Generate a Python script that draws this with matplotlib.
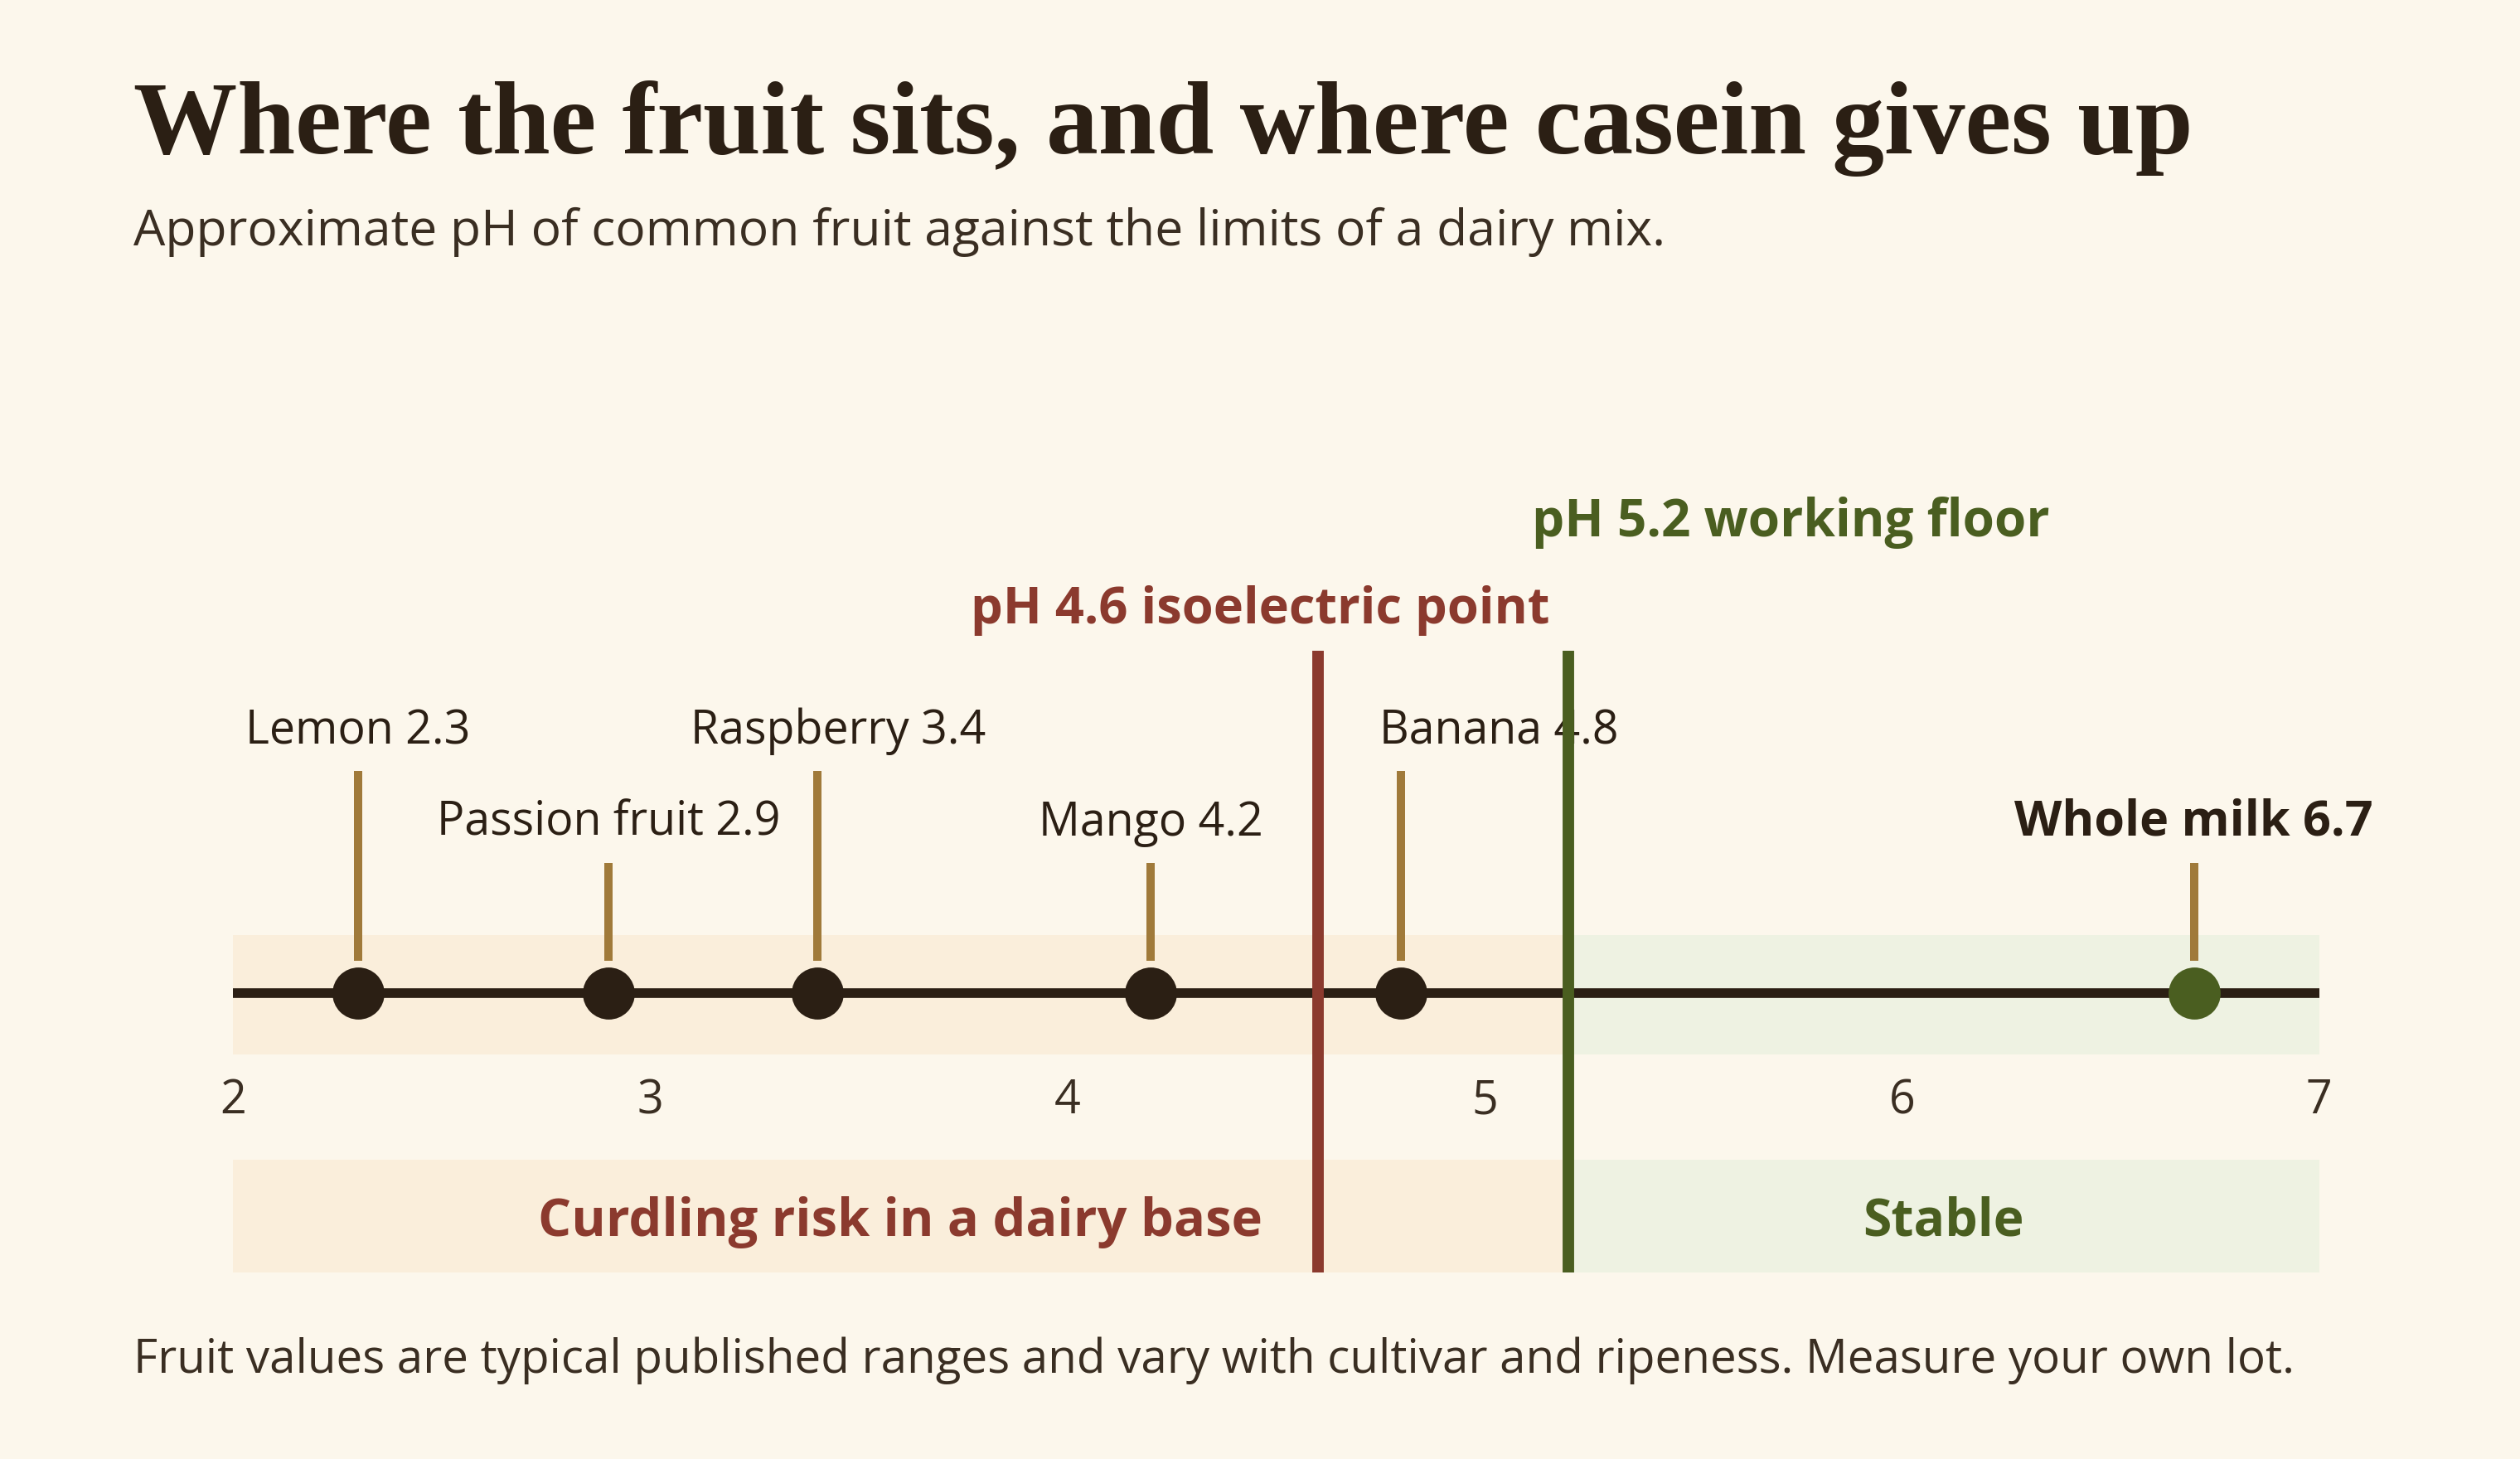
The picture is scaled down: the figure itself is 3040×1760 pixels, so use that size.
import matplotlib
matplotlib.use("Agg")
import matplotlib.pyplot as plt
from matplotlib.patches import Rectangle
import numpy as np

# ---------------- data ----------------
fruits = ["Lemon", "Passion fruit", "Raspberry", "Mango", "Banana"]
fruit_ph = [2.3, 2.9, 3.4, 4.2, 4.8]
milk_label = "Whole milk"
milk_ph = 6.7
isoelectric_ph = 4.6
floor_ph = 5.2
x_ticks = [2, 3, 4, 5, 6, 7]
title = "Where the fruit sits, and where casein gives up"
subtitle = "Approximate pH of common fruit against the limits of a dairy mix."
footer = "Fruit values are typical published ranges and vary with cultivar and ripeness. Measure your own lot."
zone_labels = ["Curdling risk in a dairy base", "Stable"]
line_labels = ["pH 4.6 isoelectric point", "pH 5.2 working floor"]

# ---------------- style ----------------
BG = "#FCF7EC"
WARM = "#FAEEDB"
COOL = "#EEF2E2"
DARK = "#2B1F14"
TEXT2 = "#3A2E22"
RED = "#8B3A2E"
GREEN = "#4A5E20"
STEM = "#A07A3A"
SANS = ["Open Sans", "Noto Sans", "DejaVu Sans"]
SERIF = ["Liberation Serif", "DejaVu Serif"]

# label x nudges (layout pixels) to keep labels clear of the threshold lines
label_dx = [0, 0, 13, 0, 61]

W, H = 1568, 908          # layout grid (reference pixels)
S = 3040 / W              # output pixels per layout pixel
PX = (7 - 2) / (1443 - 145)  # data units per layout pixel

fig = plt.figure(figsize=(15.2, 8.8), dpi=200)
fig.patch.set_facecolor(BG)

ax = fig.add_axes([145 / W, 0, (1443 - 145) / W, 1])
ax.set_xlim(2, 7)
ax.set_ylim(H, 0)
ax.axis("off")
ax.patch.set_alpha(0)

def fy(y):
    return 1 - y / H

# bands
ax.add_patch(Rectangle((2, 582), floor_ph - 2, 74, color=WARM, lw=0, zorder=0))
ax.add_patch(Rectangle((floor_ph, 582), 7 - floor_ph, 74, color=COOL, lw=0, zorder=0))
ax.add_patch(Rectangle((2, 722), floor_ph - 2, 70, color=WARM, lw=0, zorder=0))
ax.add_patch(Rectangle((floor_ph, 722), 7 - floor_ph, 70, color=COOL, lw=0, zorder=0))

# main axis line
ax.plot([2, 7], [618, 618], color=DARK, lw=4.2, solid_capstyle="butt", zorder=2)

# fruit stems, dots, labels
normal_texts = []
tops = [480, 537]
bases = [463, 520]
for i, (name, v) in enumerate(zip(fruits, fruit_ph)):
    k = i % 2
    ax.plot([v, v], [tops[k], 598], color=STEM, lw=3.6, solid_capstyle="butt", zorder=2)
    ax.plot([v], [618], "o", ms=22.6, color=DARK, mec="none", zorder=4)
    t = ax.text(v + label_dx[i] * PX, bases[k], f"{name} {v}", ha="center", va="baseline",
                color=DARK, fontsize=15, family=SANS, zorder=3)
    normal_texts.append(t)

# milk
ax.plot([milk_ph, milk_ph], [537, 598], color=STEM, lw=3.6, solid_capstyle="butt", zorder=2)
ax.plot([milk_ph], [618], "o", ms=22.6, color=GREEN, mec="none", zorder=4)
bold_texts = []
tm = ax.text(milk_ph, 520, f"{milk_label} {milk_ph}", ha="center", va="baseline",
             color=DARK, fontsize=15, fontweight="bold", family=SANS, zorder=3)
bold_texts.append((tm, 217))

# threshold lines
ax.plot([isoelectric_ph] * 2, [405, 792], color=RED, lw=5, solid_capstyle="butt", zorder=5)
ax.plot([floor_ph] * 2, [405, 792], color=GREEN, lw=5, solid_capstyle="butt", zorder=5)
t1 = ax.text(isoelectric_ph - 0.139, 388, line_labels[0], ha="center", va="baseline",
             color=RED, fontsize=15, fontweight="bold", family=SANS)
t2 = ax.text(floor_ph + 0.533, 334, line_labels[1], ha="center", va="baseline",
             color=GREEN, fontsize=15, fontweight="bold", family=SANS)
bold_texts += [(t1, 358), (t2, 322)]

# ticks
tick_texts = []
for v in x_ticks:
    tt = ax.text(v, 693, str(v), ha="center", va="baseline", color=TEXT2,
                 fontsize=15, family=SANS)
    tick_texts.append(tt)

# zone labels
z1 = ax.text((2 + floor_ph) / 2, 769, zone_labels[0], ha="center", va="baseline",
             color=RED, fontsize=15, fontweight="bold", family=SANS)
z2 = ax.text((floor_ph + 7) / 2, 769, zone_labels[1], ha="center", va="baseline",
             color=GREEN, fontsize=15, fontweight="bold", family=SANS)
bold_texts += [(z1, 458), (z2, 101)]

# header / footer
tt_title = fig.text(83 / W, fy(95.5), title, ha="left", va="baseline", color=DARK,
                    fontsize=36, fontweight="bold", family=SERIF)
tt_sub = fig.text(83 / W, fy(152.5), subtitle, ha="left", va="baseline", color=TEXT2,
                  fontsize=16, family=SANS)
tt_foot = fig.text(83 / W, fy(854.5), footer, ha="left", va="baseline", color=TEXT2,
                   fontsize=16, family=SANS)

# fit font sizes to reference widths
normal_targets = [140, 214, 184, 145, 147]
fig.canvas.draw()
r = fig.canvas.get_renderer()

def ratio(t, target):
    return target * S / t.get_window_extent(r).width

rn = np.median([ratio(t, w) for t, w in zip(normal_texts, normal_targets)])
for t in normal_texts:
    t.set_fontsize(15 * rn)
for tt in tick_texts:
    tt.set_fontsize(15 * rn)
rb = np.median([ratio(t, w) for t, w in bold_texts])
for t, w in bold_texts:
    # mostly shared size, nudged toward each label's own width
    t.set_fontsize(15 * (0.4 * rb + 0.6 * ratio(t, w)))
tt_title.set_fontsize(36 * ratio(tt_title, 1282))
tt_sub.set_fontsize(16 * ratio(tt_sub, 955))
tt_foot.set_fontsize(16 * ratio(tt_foot, 1344))

fig.savefig("out.png", dpi=200, facecolor=BG)
